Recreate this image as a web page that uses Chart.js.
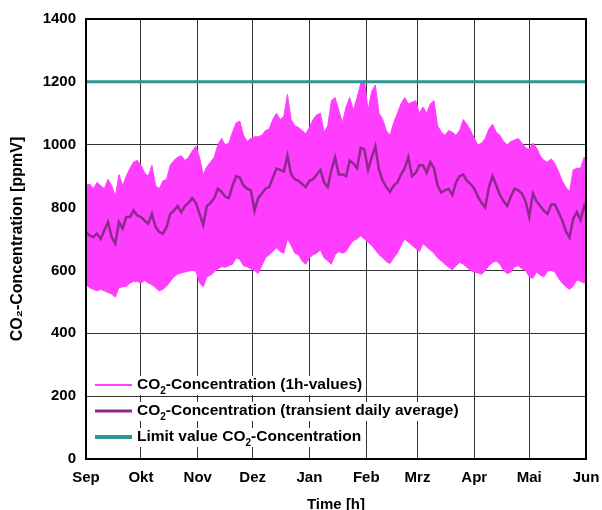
<!DOCTYPE html>
<html>
<head>
<meta charset="utf-8">
<script src="https://cdn.jsdelivr.net/npm/chart.js@4/dist/chart.umd.min.js"></script>
<style>
  html, body { margin: 0; padding: 0; background: #fff; }
  canvas { display: block; }
</style>
</head>
<body>
<canvas id="co2" width="602" height="510"></canvas>
<script>
/* CO2 concentration over the heating season (Sep - Jun).
   Hourly values are kept as an upper / lower envelope read every 2 days,
   the daily average as a 2-day sampled line. x unit = days since 1 Sep. */

const MONTH_LABELS = ['Sep', 'Okt', 'Nov', 'Dez', 'Jan', 'Feb', 'Mrz', 'Apr', 'Mai', 'Jun'];
const MONTH_START_DAYS = [0, 30, 61, 91, 122, 153, 181, 212, 242, 273];

const DAYS = [
  0, 2, 4, 6, 8, 10, 12, 14, 16, 18, 20, 22, 24, 26, 28, 30, 32, 34, 36, 38, 40, 42, 44, 46,
  48, 50, 52, 54, 56, 58, 60, 62, 64, 66, 68, 70, 72, 74, 76, 78, 80, 82, 84, 86, 88, 90, 92,
  94, 96, 98, 100, 102, 104, 106, 108, 110, 112, 114, 116, 118, 120, 122, 124, 126, 128, 130, 132, 134, 136, 138,
  140, 142, 144, 146, 148, 150, 152, 154, 156, 158, 160, 162, 164, 166, 168, 170, 172, 174, 176, 178, 180, 182,
  184, 186, 188, 190, 192, 194, 196, 198, 200, 202, 204, 206, 208, 210, 212, 214, 216, 218, 220, 222, 224, 226, 228, 230,
  232, 234, 236, 238, 240, 242, 244, 246, 248, 250, 252, 254, 256, 258, 260, 262, 264, 266, 268, 270, 272, 273
];

// upper edge of the 1h-value band [ppmV]
const UPPER_1H = [
  870, 875, 860, 880, 870, 860, 890, 870, 835, 905, 870, 900, 925, 945, 950, 935, 910, 900, 935, 870, 860, 885, 890, 935,
  950, 960, 965, 950, 960, 980, 995, 960, 905, 930, 945, 960, 1000, 1020, 1000, 1005, 1040, 1070, 1075, 1030, 1010, 1020, 1025,
  1025, 1030, 1045, 1050, 1080, 1100, 1080, 1090, 1160, 1080, 1060, 1055, 1045, 1035, 1055, 1080, 1095, 1100, 1040, 1060, 1140, 1150, 1110,
  1070, 1120, 1150, 1110, 1150, 1195, 1205, 1110, 1170, 1190, 1100, 1080, 1045, 1030, 1070, 1100, 1130, 1150, 1130, 1135, 1140, 1100,
  1120, 1100, 1130, 1140, 1060, 1040, 1030, 1045, 1040, 1030, 1045, 1080, 1065, 1045, 1020, 1000, 1005, 1020, 1050, 1065, 1040, 1030, 1010, 1000,
  1010, 1015, 1020, 1005, 990, 985, 1005, 990, 965, 950, 945, 955, 940, 915, 885, 865, 850, 920, 925, 925, 960, 950
];

// lower edge of the 1h-value band [ppmV]
const LOWER_1H = [
  555, 545, 540, 535, 540, 535, 530, 525, 515, 545, 548, 550, 560, 565, 565, 560, 568, 560, 555, 545, 535, 540, 550, 565,
  580, 588, 592, 595, 598, 600, 598, 560, 548, 580, 585, 595, 605, 612, 610, 615, 620, 640, 635, 615, 612, 605, 600,
  590, 615, 640, 650, 660, 672, 660, 655, 700, 680, 655, 650, 630, 620, 640, 650, 655, 665, 640, 630, 620, 650, 660,
  655, 660, 680, 695, 700, 710, 700, 690, 680, 665, 650, 640, 628, 622, 640, 655, 680, 700, 690, 680, 670, 660,
  685, 675, 665, 655, 640, 630, 620, 610, 602, 615, 625, 620, 610, 600, 595, 592, 588, 600, 615, 625, 630, 620, 600, 590,
  595, 612, 615, 605, 600, 580, 575, 595, 585, 580, 598, 600, 595, 575, 560, 548, 540, 550, 570, 565, 560, 565
];

// transient daily average [ppmV]
const DAILY_AVG = [
  722, 711, 706, 717, 700, 727, 754, 706, 685, 754, 733, 770, 770, 791, 775, 770, 759, 749, 780, 738, 722, 717, 738, 780,
  790, 805, 785, 805, 815, 830, 815, 780, 745, 805, 815, 830, 860, 850, 835, 830, 870, 900, 895, 870, 860, 855, 790,
  830, 845, 860, 865, 895, 925, 920, 915, 965, 905, 890, 885, 875, 865, 885, 890, 905, 920, 880, 865, 920, 960, 905,
  905, 900, 950, 940, 925, 990, 985, 920, 960, 995, 920, 885, 865, 850, 870, 880, 905, 925, 960, 900, 910, 935,
  935, 910, 945, 925, 870, 848, 855, 860, 840, 880, 900, 905, 885, 875, 860, 835, 815, 800, 865, 900, 870, 840, 820, 805,
  835, 860, 855, 845, 820, 770, 845, 820, 805, 790, 780, 810, 810, 785, 760, 725, 705, 765, 785, 760, 805, 790
];

const LIMIT_VALUE = 1200;
const Y_TICKS = [0, 200, 400, 600, 800, 1000, 1200, 1400];

const MAGENTA = '#ff3dff';
const PURPLE = '#8c2a8c';
const TEAL = '#2e9690';
const FONT = 'Liberation Sans, Arial, sans-serif';
const TXT = 15;

const pts = vals => DAYS.map((d, i) => ({ x: d, y: vals[i] }));
const limitPts = [
  { x: MONTH_START_DAYS[0], y: LIMIT_VALUE },
  { x: MONTH_START_DAYS[MONTH_START_DAYS.length - 1], y: LIMIT_VALUE },
];

const LEGEND_ROWS = [
  { color: MAGENTA, width: 2, parts: ['CO', '_2', '-Concentration (1h-values)'] },
  { color: PURPLE, width: 3, parts: ['CO', '_2', '-Concentration (transient daily average)'] },
  { color: TEAL, width: 4, parts: ['Limit value CO', '_2', '-Concentration'] },
];

// text with a lowered small "2" (parts starting with "_" are subscripts)
function drawRich(ctx, parts, x, y) {
  let cx = x;
  parts.forEach(p => {
    const sub = p.startsWith('_');
    const t = sub ? p.slice(1) : p;
    ctx.font = `bold ${sub ? 10 : 15.5}px ${FONT}`;
    ctx.fillText(t, cx, sub ? y + 6 : y);
    cx += ctx.measureText(t).width;
  });
  return cx - x;
}

function measureRich(ctx, parts) {
  let w = 0;
  parts.forEach(p => {
    const sub = p.startsWith('_');
    ctx.font = `bold ${sub ? 10 : 15.5}px ${FONT}`;
    w += ctx.measureText(sub ? p.slice(1) : p).width;
  });
  return w;
}

const framePlugin = {
  id: 'frame',
  afterDraw(chart) {
    const { ctx, chartArea: a } = chart;
    ctx.save();
    // legend inside the plot, bottom left
    ctx.textBaseline = 'middle';
    LEGEND_ROWS.forEach((row, i) => {
      const y = 385 + i * 26;
      const tx = 137;
      const w = measureRich(ctx, row.parts);
      ctx.fillStyle = '#fff';
      ctx.fillRect(tx - 2, y - 9, w + 4, 19);
      ctx.strokeStyle = row.color;
      ctx.lineWidth = row.width;
      ctx.beginPath();
      ctx.moveTo(95, y);
      ctx.lineTo(132, y);
      ctx.stroke();
      ctx.fillStyle = '#000';
      drawRich(ctx, row.parts, tx, y);
    });
    // plot frame
    ctx.strokeStyle = '#000';
    ctx.lineWidth = 2;
    ctx.strokeRect(a.left, a.top, a.right - a.left, a.bottom - a.top);
    ctx.restore();
  },
};

new Chart(document.getElementById('co2'), {
  type: 'line',
  data: {
    datasets: [
      { label: 'upper', data: pts(UPPER_1H), borderColor: MAGENTA, backgroundColor: MAGENTA, borderWidth: 1, fill: '+1', order: 3 },
      { label: 'lower', data: pts(LOWER_1H), borderColor: MAGENTA, backgroundColor: MAGENTA, borderWidth: 1, fill: false, order: 4 },
      { label: 'avg', data: pts(DAILY_AVG), borderColor: PURPLE, borderWidth: 2.5, fill: false, order: 2 },
      { label: 'limit', data: limitPts, borderColor: TEAL, borderWidth: 3, fill: false, order: 1 },
    ],
  },
  options: {
    responsive: false,
    animation: false,
    devicePixelRatio: 1,
    layout: { padding: { left: 0, top: 18, right: 16, bottom: 0 } },
    elements: { point: { radius: 0 }, line: { tension: 0 } },
    plugins: { legend: { display: false }, tooltip: { enabled: false } },
    scales: {
      x: {
        type: 'linear',
        min: MONTH_START_DAYS[0],
        max: MONTH_START_DAYS[MONTH_START_DAYS.length - 1],
        afterBuildTicks: s => { s.ticks = MONTH_START_DAYS.map(v => ({ value: v })); },
        afterFit: s => { s.height = 51; s.paddingLeft = 0; s.paddingRight = 0; },
        grid: { color: '#333', lineWidth: 1, drawTicks: false },
        border: { color: '#000', width: 2 },
        ticks: {
          padding: 10,
          color: '#000',
          maxRotation: 0,
          autoSkip: false,
          font: { family: FONT, size: TXT, weight: 'bold' },
          callback: v => MONTH_LABELS[MONTH_START_DAYS.indexOf(v)],
        },
        title: {
          display: true,
          text: 'Time [h]',
          color: '#000',
          font: { family: FONT, size: TXT, weight: 'bold' },
          padding: { top: 0, bottom: -4 },
        },
      },
      y: {
        min: Y_TICKS[0],
        max: Y_TICKS[Y_TICKS.length - 1],
        afterBuildTicks: s => { s.ticks = Y_TICKS.map(v => ({ value: v })); },
        afterFit: s => { s.width = 86; },
        grid: { color: '#333', lineWidth: 1, drawTicks: false },
        border: { color: '#000', width: 2 },
        ticks: {
          padding: 10,
          color: '#000',
          font: { family: FONT, size: TXT, weight: 'bold' },
          callback: v => String(v),
        },
        title: {
          display: true,
          text: 'CO₂-Concentration [ppmV]',
          color: '#000',
          font: { family: FONT, size: 16, weight: 'bold' },
          padding: { top: 8, bottom: 0 },
        },
      },
    },
  },
  plugins: [framePlugin],
});
</script>
</body>
</html>
